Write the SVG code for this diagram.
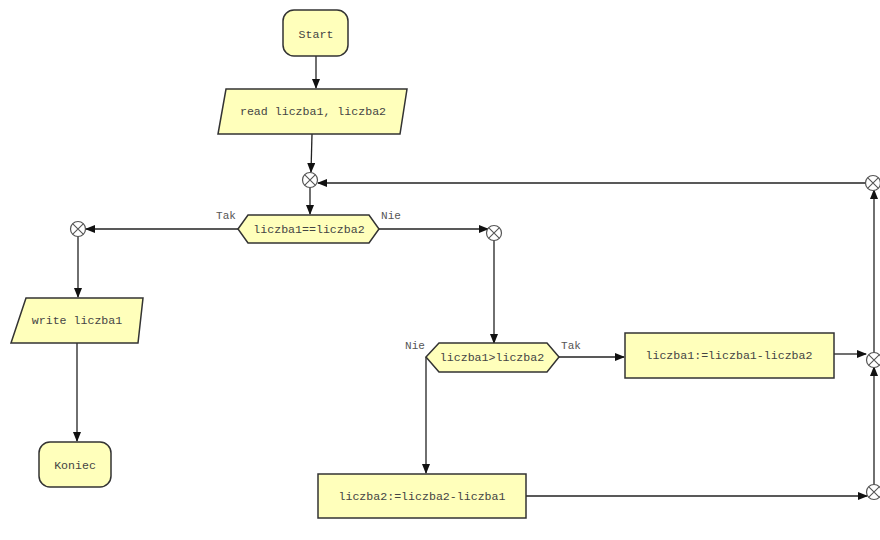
<svg xmlns="http://www.w3.org/2000/svg" width="880" height="540" viewBox="0 0 880 540">
<style>
.n{fill:#ffffbb;stroke:#333;stroke-width:1.5}
.t{font-family:"Liberation Mono","Courier New",monospace;font-size:11.6px;fill:#444;text-anchor:middle;dominant-baseline:central}
.l{font-family:"Liberation Mono","Courier New",monospace;font-size:11px;fill:#555;text-anchor:middle;dominant-baseline:central}
.c{stroke:#222;stroke-width:1.3;fill:none}
</style>
<defs>
<marker id="a" markerWidth="10" markerHeight="8" refX="9" refY="4" orient="auto" markerUnits="userSpaceOnUse">
<path d="M0,0 L10,4 L0,8 Z" fill="#111"/>
</marker>
<g id="jx"><circle r="7.5" fill="#fff" stroke="#555" stroke-width="1.2"/><path d="M-5.2,-5.2 L5.2,5.2 M-5.2,5.2 L5.2,-5.2" stroke="#555" stroke-width="1.1"/></g>
</defs>
<rect width="880" height="540" fill="#fff"/>
<g id="connectors">
<path class="c" d="M316,56 L316,88" marker-end="url(#a)"/>
<path class="c" d="M312,134 L311,172" marker-end="url(#a)"/>
<path class="c" d="M310,187 L310,214" marker-end="url(#a)"/>
<path class="c" d="M238,229 L86,229" marker-end="url(#a)"/>
<path class="c" d="M379,229 L488,229" marker-end="url(#a)"/>
<path class="c" d="M494,240 L494,343" marker-end="url(#a)"/>
<path class="c" d="M559,357 L624,357" marker-end="url(#a)"/>
<path class="c" d="M426,357 L426,473" marker-end="url(#a)"/>
<path class="c" d="M834,354 L866,354" marker-end="url(#a)"/>
<path class="c" d="M526,496 L867,496" marker-end="url(#a)"/>
<path class="c" d="M874,485 L874,367" marker-end="url(#a)"/>
<path class="c" d="M874,353 L874,190" marker-end="url(#a)"/>
<path class="c" d="M865,183 L318,183" marker-end="url(#a)"/>
<path class="c" d="M78,236 L78,297" marker-end="url(#a)"/>
<path class="c" d="M77,343 L77,441" marker-end="url(#a)"/>
</g>
<g id="start"><rect class="n" x="283" y="10" width="65" height="46" rx="11"/><text class="t" x="316" y="34">Start</text></g>
<g id="read"><polygon class="n" points="226,89 407,89 400,134 218,134"/><text class="t" x="313" y="111">read liczba1, liczba2</text></g>
<g id="j1"><use href="#jx" x="310" y="180"/></g>
<g id="dec1"><polygon class="n" points="238,229 248,215 369,215 379,229 369,243 248,243"/><text class="t" x="309" y="229">liczba1==liczba2</text></g>
<text class="l" x="226" y="216">Tak</text>
<text class="l" x="391" y="216">Nie</text>
<g id="j2"><use href="#jx" x="78" y="229"/></g>
<g id="j3"><use href="#jx" x="494" y="233"/></g>
<g id="write"><polygon class="n" points="26,298 143,298 138,343 11,343"/><text class="t" x="77" y="320">write liczba1</text></g>
<g id="koniec"><rect class="n" x="39" y="442" width="72" height="45" rx="11"/><text class="t" x="75" y="465">Koniec</text></g>
<g id="dec2"><polygon class="n" points="426,357 439,343 547,343 559,357 547,372 439,372"/><text class="t" x="492" y="357">liczba1&gt;liczba2</text></g>
<text class="l" x="415" y="346">Nie</text>
<text class="l" x="571" y="346">Tak</text>
<g id="box1"><rect class="n" x="625" y="333" width="209" height="45"/><text class="t" x="729" y="355">liczba1:=liczba1-liczba2</text></g>
<g id="box2"><rect class="n" x="318" y="474" width="208" height="44"/><text class="t" x="422" y="496">liczba2:=liczba2-liczba1</text></g>
<g id="j4"><use href="#jx" x="873" y="183"/></g>
<g id="j5"><use href="#jx" x="874" y="360"/></g>
<g id="j6"><use href="#jx" x="874" y="492"/></g>
</svg>
